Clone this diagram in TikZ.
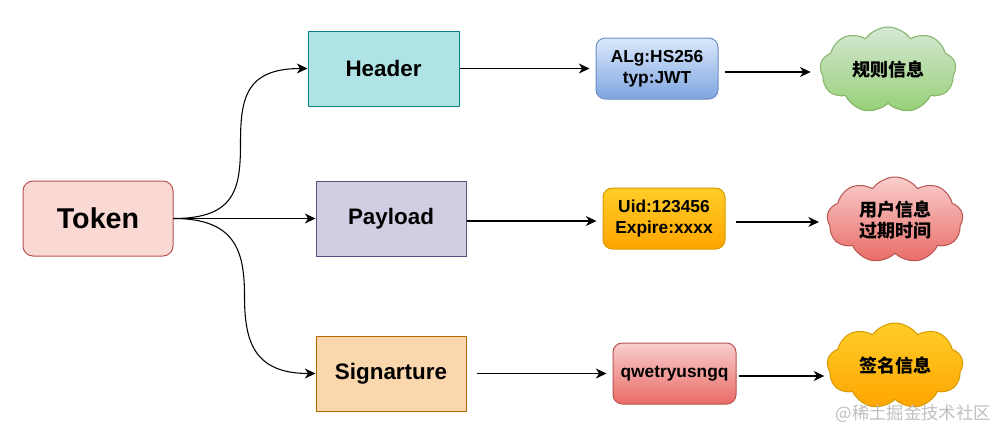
\documentclass[tikz,border=0pt]{standalone}
\usepackage{fontspec}
\setmainfont{Liberation Sans}
\newfontfamily\cjk{Noto Sans CJK SC}
\usetikzlibrary{shapes.symbols,arrows.meta,calc}
\definecolor{tokF}{HTML}{FAD9D5}\definecolor{tokD}{HTML}{B85450}
\definecolor{hdrF}{HTML}{B0E3E6}\definecolor{hdrD}{HTML}{0E8088}
\definecolor{payF}{HTML}{D0CEE2}\definecolor{payD}{HTML}{56517E}
\definecolor{sigF}{HTML}{FAD7AC}\definecolor{sigD}{HTML}{B46504}
\definecolor{bluT}{HTML}{DAE8FC}\definecolor{bluB}{HTML}{7EA6E0}\definecolor{bluD}{HTML}{6C8EBF}
\definecolor{orgT}{HTML}{FFCD28}\definecolor{orgB}{HTML}{FFA500}\definecolor{orgD}{HTML}{D79B00}
\definecolor{redT}{HTML}{F8CECC}\definecolor{redB}{HTML}{EA6B66}\definecolor{redD}{HTML}{B85450}
\definecolor{grnT}{HTML}{D5E8D4}\definecolor{grnB}{HTML}{97D077}\definecolor{grnD}{HTML}{82B366}
\tikzset{
  bigbox/.style={draw, line width=0.75pt, minimum width=112.5pt, minimum height=56.25pt, font=\fontsize{16.8}{20}\selectfont\bfseries},
  smallbox/.style={draw, line width=0.75pt, rounded corners=7pt, minimum width=91.5pt, minimum height=45.75pt, align=center, font=\fontsize{13}{16}\selectfont\bfseries},
  cloudbox/.style={cloud, cloud puffs=9, cloud puff arc=110, cloud ignores aspect, draw, line width=0.75pt, minimum width=102pt, minimum height=64.5pt, align=center, inner sep=0pt, font=\cjk\fontsize{13.5}{15.5}\selectfont\bfseries},
  arr/.style={-{Stealth[length=8pt,width=7.5pt,inset=2.5pt]}, line width=0.8pt, black},
}
\begin{document}
\begin{tikzpicture}[x=0.75pt,y=-0.75pt]
\useasboundingbox[fill=white] (0,0) rectangle (1007,440);
% main nodes
\node[bigbox, rounded corners=7.5pt, fill=tokF, draw=tokD, font=\fontsize{21.5}{24}\selectfont\bfseries] (tok) at (98,218.5) {Token};
\node[bigbox, fill=hdrF, draw=hdrD, minimum width=113.25pt] (hdr) at (383.5,68.5) {Header};
\node[bigbox, fill=payF, draw=payD] (pay) at (391,218.5) {Payload};
\node[bigbox, fill=sigF, draw=sigD] (sig) at (391,373.5) {Signarture};
% value boxes
\node[smallbox, top color=bluT, bottom color=bluB, draw=bluD] (alg) at (657,68.5) {ALg:HS256\\typ:JWT};
\node[smallbox, top color=orgT, bottom color=orgB, draw=orgD] (uid) at (664,218.5) {Uid:123456\\Expire:xxxx};
\node[smallbox, top color=redT, bottom color=redB, draw=redD, minimum width=92.25pt] (qwe) at (674.5,373.5) {qwetryusngq};
% clouds
\node[cloudbox, top color=grnT, bottom color=grnB, draw=grnD] (c1) at (888,70) {规则信息};
\node[cloudbox, top color=redT, bottom color=redB, draw=redD] (c2) at (895,220) {用户信息\\过期时间};
\node[cloudbox, top color=orgT, bottom color=orgB, draw=orgD] (c3) at (895,366) {签名信息};
% connectors from token
\coordinate (m1) at ($(tok.east)!0.5!(hdr.west)$);
\coordinate (m3) at ($(tok.east)!0.5!(sig.west)$);
\draw[arr] (tok.east) .. controls +(62,0) and +(0,45) .. (m1) .. controls +(0,-45) and +(-62,0) .. (hdr.west);
\draw[arr] (tok.east) -- (pay.west);
\draw[arr] (tok.east) .. controls +(62,0) and +(0,-45) .. (m3) .. controls +(0,45) and +(-62,0) .. (sig.west);
% rows
\draw[arr, shorten >=4.5pt] (hdr.east) -- (alg.west);
\draw[arr, shorten >=4.5pt] (pay.east |- 0,221) -- (uid.west |- 0,221);
\draw[arr, shorten <=7.5pt, shorten >=4.5pt] (sig.east) -- (qwe.west);
\draw[arr, shorten <=5pt, shorten >=7pt] (alg.east |- 0,72) -- (c1.west |- 0,72);
\draw[arr, shorten <=7.5pt, shorten >=6pt] (uid.east |- 0,222) -- (c2.west |- 0,222);
\draw[arr, shorten <=1.5pt, shorten >=2pt] (qwe.east |- 0,376) -- (c3.west |- 0,376);
% watermark
\node[anchor=east, text=black!25, font=\cjk\fontsize{13}{15}\selectfont, inner sep=0pt] (wm) at (991,414) {@稀土掘金技术社区};
\end{tikzpicture}
\end{document}
